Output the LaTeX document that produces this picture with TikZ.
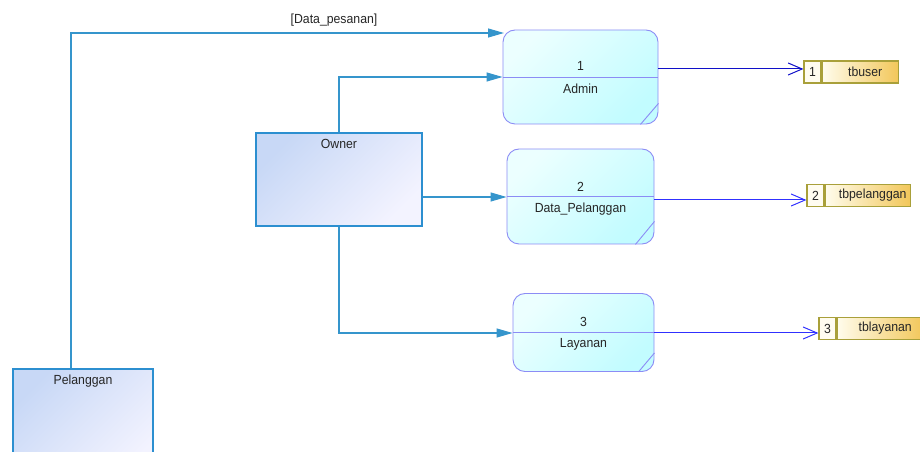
\documentclass[tikz,border=0pt]{standalone}
\usepackage{fontspec}
\setmainfont{Liberation Sans}
\newfontfamily\labelfont[FakeStretch=0.93]{Liberation Sans}
\usetikzlibrary{arrows.meta,calc}

\definecolor{procfillA}{HTML}{ECFFFF}
\definecolor{procfillB}{HTML}{C2FCFF}
\definecolor{procedge}{HTML}{8C8CF5}
\definecolor{entfillA}{HTML}{C8D8F6}
\definecolor{entfillB}{HTML}{F3F3FF}
\definecolor{entedge}{HTML}{2C8FD0}
\definecolor{storeedge}{HTML}{A9A03A}
\definecolor{storenum}{HTML}{FFFCF0}
\definecolor{storeA}{HTML}{FFFCEC}
\definecolor{storeB}{HTML}{F2C75A}
\definecolor{flowcol}{HTML}{3595CC}
\definecolor{storeline}{HTML}{3030FF}
\definecolor{storelinedark}{HTML}{1010C8}

\tikzset{
  txt/.style={font=\labelfont\fontsize{13.2bp}{15bp}\selectfont, inner sep=0pt, text=black!85},
  proc/.style={draw=procedge, line width=0.9bp, rounded corners=12bp,
    top color=procfillA, bottom color=procfillB, shading angle=45},
  procrule/.style={draw=procedge, line width=0.9bp},
  entity/.style={draw=entedge, line width=1.1bp,
    top color=entfillA, bottom color=entfillB, shading angle=45},
  snum/.style={draw=storeedge, line width=1.2bp, fill=storenum,
    minimum height=22bp, minimum width=17bp, inner sep=0pt, txt},
  sname/.style={draw=storeedge, line width=1.2bp,
    left color=storeA, right color=storeB,
    minimum height=22bp, inner sep=0pt, txt},
  flow/.style={draw=flowcol, line width=1.1bp,
    -{Triangle[length=16bp,width=9bp]}},
  sflow/.style={draw=storeline, line width=1bp,
    -{Straight Barb[length=14bp,width=12bp,line width=1bp]}},
}

\begin{document}
\begin{tikzpicture}[x=1bp,y=-1bp]
\useasboundingbox (0,0) rectangle (920,452);
\clip (0,0) rectangle (920,452);

% processes
\node[proc, minimum width=155bp, minimum height=94bp] (p1) at (580.5,77) {};
\node[proc, minimum width=147bp, minimum height=95bp] (p2) at (580.5,196.5) {};
\node[proc, minimum width=141bp, minimum height=78bp] (p3) at (583.5,332.5) {};
\foreach \p/\dx/\dy in {p1/18/21, p2/19/23, p3/16/19}{
  \draw[procrule] (\p.west) -- (\p.east);
  \draw[procrule] ([xshift=-\dx bp]\p.south east) -- ([yshift=\dy bp]\p.south east);
}
\node[txt] (p1num) at (580.5,66) {1};
\node[txt] (p1lbl) at (580.5,89) {Admin};
\node[txt] (p2num) at (580.5,186.5) {2};
\node[txt] (p2lbl) at (580.5,209) {Data\_Pelanggan};
\node[txt] (p3num) at (583.5,321.5) {3};
\node[txt] (p3lbl) at (583.5,344) {Layanan};

% external entities
\node[entity, minimum width=166bp, minimum height=93bp] (own) at (339,179.5) {};
\node[txt] (ownlbl) at (339,144) {Owner};
\node[entity, minimum width=140bp, minimum height=110bp] (pel) at (83,424) {};
\node[txt] (pellbl) at (83,381) {Pelanggan};

% data stores
\node[snum] (s1n) at (812.5,72) {1};
\node[sname, anchor=west, minimum width=76bp] (s1) at (s1n.east) {\hspace{10bp}tbuser};
\node[snum] (s2n) at (815.5,195.5) {2};
\node[sname, anchor=west, minimum width=85bp] (s2) at (s2n.east) {\hspace{10bp}tbpelanggan};
\node[snum] (s3n) at (827.5,328.5) {3};
\node[sname, anchor=west, minimum width=86bp] (s3) at (s3n.east) {\hspace{10bp}tblayanan};

% data flows
\draw[flow] (pel.north -| 71,0) |- (504,33) coordinate (p1in);
\node[txt] (flowlbl) at (334,20) {[Data\_pesanan]};
\draw[flow] (own.north) |- (p1.west);
\draw[flow] (own.east |- 0,197) -- (p2.west |- 0,197);
\draw[flow] (own.south) |- (p3.west |- 0,333);

\draw[sflow, draw=storelinedark] (p1.east |- 0,69) -- (s1n.west |- 0,69);
\draw[sflow] (p2.east |- 0,200) -- (s2n.west |- 0,200);
\draw[sflow] (p3.east |- 0,333) -- (s3n.west |- 0,333);
\end{tikzpicture}
\end{document}
